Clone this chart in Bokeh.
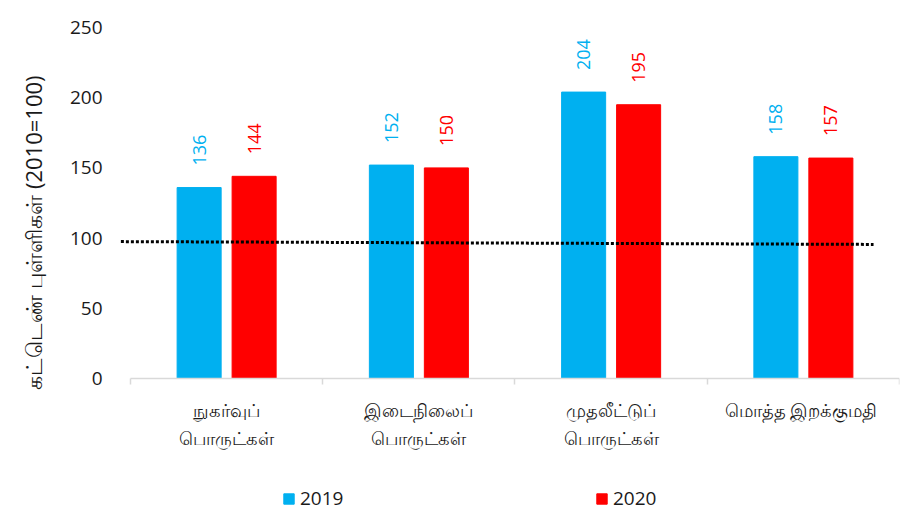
import numpy as np
from math import pi
from bokeh.plotting import figure
from bokeh.models import (ColumnDataSource, FixedTicker, Legend, LegendItem,
                          Range1d, Title)
from bokeh.core.properties import value
from bokeh.transform import dodge
from bokeh.embed import file_html
from bokeh.resources import INLINE

# ---- data ----
categories = ["நுகர்வுப்\nபொருட்கள்", "இடைநிலைப்\nபொருட்கள்",
              "முதலீட்டுப்\nபொருட்கள்", "மொத்த  இறக்குமதி"]
series_names = ["2019", "2020"]
values_2019 = [136, 152, 204, 158]
values_2020 = [144, 150, 195, 157]
y_ticks = [0, 50, 100, 150, 200, 250]
ref_line_x = [-0.05, 3.865]
ref_line_y = [97.5, 95.5]
y_label = "கட்டெண்  புள்ளிகள் (2010=100)"

BLUE = "#00B0F0"
RED = "#FF0000"
TXT = "#1a1a1a"
FONT = "Open Sans"

xpos = [float(i) + 0.5 for i in range(len(categories))]
src = ColumnDataSource(dict(
    x=xpos, v2019=values_2019, v2020=values_2020,
    l2019=[str(v) for v in values_2019], l2020=[str(v) for v in values_2020]))

FRAME_H = 484
PX_PER_UNIT = 351 / 250
p = figure(frame_width=783, frame_height=FRAME_H,
           x_range=Range1d(-0.0728, 4.0),
           y_range=Range1d(250 - FRAME_H / PX_PER_UNIT, 250),
           output_backend="svg", toolbar_location=None,
           min_border_left=116, min_border_top=27, min_border_bottom=0,
           min_border_right=2)
p.outline_line_color = None
p.grid.visible = False
p.background_fill_color = "white"

off = 0.143
bw = 0.229
r1 = p.vbar(x=dodge("x", -off), top="v2019", width=bw, color=BLUE, source=src)
r2 = p.vbar(x=dodge("x", off), top="v2020", width=bw, color=RED, source=src)

p.text(x=dodge("x", -off), y="v2019", text="l2019", angle=pi / 2,
       text_align="left", text_baseline="middle", y_offset=-22,
       text_color=BLUE, text_font_size="18px", text_font=value(FONT), source=src)
p.text(x=dodge("x", off), y="v2020", text="l2020", angle=pi / 2,
       text_align="left", text_baseline="middle", y_offset=-22,
       text_color=RED, text_font_size="18px", text_font=value(FONT), source=src)

p.line(ref_line_x, ref_line_y, line_color="black", line_width=3, line_dash="3 2")

# x axis (pinned at y = 0 inside the frame)
xa = p.xaxis[0]
xa.fixed_location = 0
xa.ticker = FixedTicker(ticks=xpos, minor_ticks=[float(i) for i in range(len(categories) + 1)])
xa.major_label_overrides = {xv: c for xv, c in zip(xpos, categories)}
xa.bounds = (0, 4)
xa.axis_line_color = "#d9d9d9"
xa.axis_line_width = 1.5
xa.major_tick_line_color = None
xa.minor_tick_line_color = "#d9d9d9"
xa.minor_tick_line_width = 1.5
xa.minor_tick_in = 0
xa.minor_tick_out = 6
xa.major_tick_out = 0
xa.major_tick_in = 0
xa.major_label_standoff = 13
xa.major_label_text_font_size = "18px"
xa.major_label_text_color = TXT
xa.major_label_text_font = FONT

# y axis
ya = p.yaxis[0]
ya.ticker = FixedTicker(ticks=y_ticks)
ya.axis_line_color = None
ya.major_tick_line_color = None
ya.minor_tick_line_color = None
ya.major_label_standoff = 8
ya.major_label_text_font_size = "19px"
ya.major_label_text_color = TXT
ya.major_label_text_font = FONT

t = Title(text=y_label, align="left", offset=122, text_font_size="22px",
          vertical_align="top",
          text_font_style="normal", text_color=TXT, text_font=FONT, standoff=34)
p.add_layout(t, "left")

legend = Legend(items=[LegendItem(label=series_names[0], renderers=[r1]),
                       LegendItem(label=series_names[1], renderers=[r2])],
                orientation="horizontal", location=(166, 0),
                padding=0, margin=0, spacing=250, label_width=45,
                glyph_width=13, glyph_height=13, label_height=13,
                label_standoff=5, border_line_color=None,
                background_fill_alpha=0,
                label_text_font_size="19px", label_text_color=TXT,
                label_text_font=FONT)
p.add_layout(legend, "center")

open("out.html", "w").write(file_html(p, INLINE))
